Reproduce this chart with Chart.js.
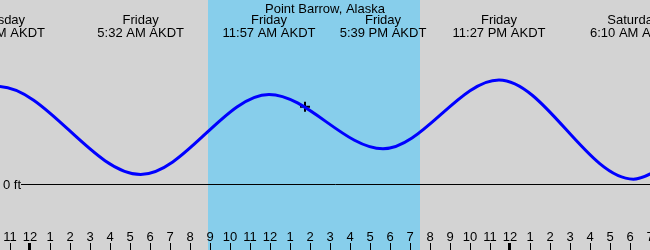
<!DOCTYPE html>
<html>
<head>
<meta charset="utf-8">
<script src="https://cdn.jsdelivr.net/npm/chart.js@4.4.1/dist/chart.umd.min.js"></script>
<style>
  html, body { margin: 0; padding: 0; background: #d3d3d3; }
  #wrap { width: 650px; height: 250px; position: relative; }
  canvas { display: block; }
</style>
</head>
<body>
<div id="wrap"><canvas id="c" width="650" height="250"></canvas></div>
<script>
// ---- data (hours measured from Friday 00:00 AKDT) ----
const title = "Point Barrow, Alaska";
const tideHours  = [-2.6, -1.6, 5.533, 11.95, 17.65, 23.45, 30.167, 32.0];
const tideFeet   = [0.58, 0.61, 0.06, 0.56, 0.22, 0.65, 0.03, 0.13];
const extremeHours = [-1.6, 5.533, 11.95, 17.65, 23.45, 30.167];
const extremeDays  = ["Thursday", "Friday", "Friday", "Friday", "Friday", "Saturday"];
const extremeTimes = ["10:24 PM AKDT", "5:32 AM AKDT", "11:57 AM AKDT", "5:39 PM AKDT", "11:27 PM AKDT", "6:10 AM AKDT"];
const daylight = [8.9, 19.5];            // sunrise, sunset
const nowPoint = [13.75, 0.483];         // current time marker
const hourTicks  = [-1,0,1,2,3,4,5,6,7,8,9,10,11,12,13,14,15,16,17,18,19,20,21,22,23,24,25,26,27,28,29,30,31];
const hourLabels = ["11","12","1","2","3","4","5","6","7","8","9","10","11","12","1","2","3","4","5","6","7","8","9","10","11","12","1","2","3","4","5","6","7"];
const midnightHours = [0, 24];
const zeroLabel = "0 ft";

const FONT = '13px "Liberation Sans", Arial, sans-serif';

const decor = {
  id: 'decor',
  beforeDraw(chart) {
    const ctx = chart.ctx, xs = chart.scales.x, ys = chart.scales.y;
    const W = chart.width, H = chart.height;
    ctx.save();
    ctx.fillStyle = '#d3d3d3';
    ctx.fillRect(0, 0, W, H);
    const x0 = Math.round(xs.getPixelForValue(daylight[0]));
    const x1 = Math.round(xs.getPixelForValue(daylight[1]));
    ctx.fillStyle = '#87ceeb';
    ctx.fillRect(x0, 0, x1 - x0, H);
    // zero line
    const yz = Math.round(ys.getPixelForValue(0)) + 0.5;
    ctx.strokeStyle = '#000';
    ctx.lineWidth = 1;
    ctx.beginPath();
    ctx.moveTo(21, yz);
    ctx.lineTo(W, yz);
    ctx.stroke();
    ctx.fillStyle = '#000';
    ctx.font = FONT;
    ctx.textAlign = 'left';
    ctx.textBaseline = 'alphabetic';
    ctx.fillText(zeroLabel, 3, yz + 4);
    ctx.restore();
  },
  afterDatasetsDraw(chart) {
    const ctx = chart.ctx, xs = chart.scales.x;
    const W = chart.width, H = chart.height;
    ctx.save();
    ctx.fillStyle = '#000';
    ctx.font = FONT;
    ctx.textAlign = 'center';
    ctx.textBaseline = 'alphabetic';
    ctx.fillText(title, W / 2, 13);
    extremeHours.forEach((h, i) => {
      const x = xs.getPixelForValue(h);
      ctx.fillText(extremeDays[i], x, 24);
      ctx.fillText(extremeTimes[i], x, 37);
    });
    hourTicks.forEach((h, i) => {
      const x = xs.getPixelForValue(h);
      ctx.fillText(hourLabels[i], x, 241);
      const xr = Math.round(x);
      if (midnightHours.includes(h)) {
        ctx.fillRect(xr - 2, 243, 3, H - 243);
      } else {
        ctx.fillRect(xr, 243, 1, H - 243);
      }
    });
    ctx.restore();
  }
};

new Chart(document.getElementById('c'), {
  type: 'line',
  data: {
    datasets: [{
      data: tideHours.map((h, i) => ({ x: h, y: tideFeet[i] })),
      borderColor: '#0000ff',
      borderWidth: 3,
      pointRadius: 0,
      cubicInterpolationMode: 'monotone',
      fill: false
    }, {
      type: 'scatter',
      data: [{ x: nowPoint[0], y: nowPoint[1] }],
      pointStyle: 'cross',
      pointRadius: 5,
      borderColor: '#000',
      backgroundColor: '#000',
      borderWidth: 2,
      showLine: false
    }]
  },
  options: {
    responsive: false,
    animation: false,
    devicePixelRatio: 1,
    layout: { padding: 0, autoPadding: false },
    plugins: { legend: { display: false }, tooltip: { enabled: false } },
    events: [],
    scales: {
      x: { type: 'linear', min: -1.5, max: 31, display: false },
      y: { type: 'linear', min: -0.4125, max: 1.15, display: false }
    }
  },
  plugins: [decor]
});
</script>
</body>
</html>
